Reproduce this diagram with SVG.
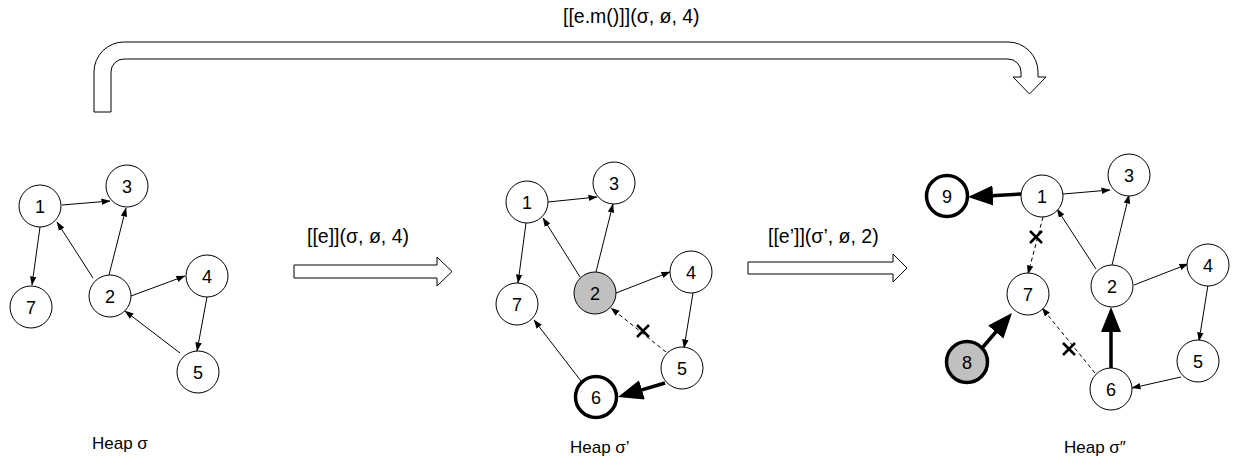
<svg xmlns="http://www.w3.org/2000/svg" width="1234" height="471" viewBox="0 0 1234 471">
<defs>
<style>
text{font-family:"Liberation Sans",Arial,sans-serif;fill:#000}
.n circle{fill:#fff;stroke:#000;stroke-width:1}
.n text{font-size:18px;text-anchor:middle}
.n.bold circle{stroke-width:3.5}
.n.gray circle{fill:#c0c0c0}
.e{stroke:#000;stroke-width:1;fill:none;marker-end:url(#ah)}
.d{stroke-dasharray:4,3}
.t{stroke:#000;stroke-width:3.5;fill:none;marker-end:url(#ahb)}
.x{stroke:#000;stroke-width:2.5}
.lbl{font-size:19.5px}
.heap{font-size:17px}
.blk{fill:#fff;stroke:#000;stroke-width:1}
</style>
<marker id="ah" markerUnits="userSpaceOnUse" markerWidth="10" markerHeight="8" refX="8.5" refY="4" orient="auto"><path d="M0,0.8 L9,4 L0,7.2 Z" fill="#000"/></marker>
<marker id="ahb" markerUnits="userSpaceOnUse" markerWidth="26" markerHeight="22" refX="15" refY="10" orient="auto"><path d="M0,0 L25,10 L0,20 Z" fill="#000"/></marker>
</defs>

<g id="big-arrow">
<path class="blk" d="M94,112 L94,72 A30,30 0 0 1 124,42 L1008,42 A30,30 0 0 1 1038,72 L1038,77 L1046,77 L1029.5,94 L1013,77 L1021,77 L1021,72 A13,13 0 0 0 1008,59 L124,59 A13,13 0 0 0 111,72 L111,112 Z"/>
<text class="lbl" x="563" y="23">[[e.m()]](σ, ø, 4)</text>
</g>
<g id="step1">
<path class="blk" d="M294,265 L437,265 L437,257 L452,271.5 L437,286 L437,278 L294,278 Z"/>
<text class="lbl" x="307" y="243">[[e]](σ, ø, 4)</text>
</g>
<g id="step2">
<path class="blk" d="M748,262 L893,262 L893,254 L907,268 L893,282 L893,274 L748,274 Z"/>
<text class="lbl" x="768" y="243">[[e’]](σ’, ø, 2)</text>
</g>

<g id="connectors">
<line class="e" x1="62" y1="205" x2="110" y2="201"/>
<line class="e" x1="40" y1="227" x2="32" y2="285"/>
<line class="e" x1="93" y1="278" x2="57" y2="222"/>
<line class="e" x1="109" y1="275" x2="126" y2="208"/>
<line class="e" x1="131" y1="296" x2="185" y2="276"/>
<line class="e" x1="207" y1="297" x2="197" y2="351"/>
<line class="e" x1="180" y1="353" x2="125" y2="311"/>
<line class="e" x1="548" y1="202" x2="597" y2="197"/>
<line class="e" x1="526" y1="223" x2="518" y2="283"/>
<line class="e" x1="580" y1="277" x2="543" y2="218"/>
<line class="e" x1="596" y1="272" x2="613" y2="204"/>
<line class="e" x1="616" y1="293" x2="670" y2="272"/>
<line class="e" x1="693" y1="293" x2="684" y2="348"/>
<line class="e d" x1="666" y1="352" x2="611" y2="308"/>
<line class="t" x1="665" y1="383" x2="627.6" y2="394.1"/>
<line class="e" x1="581" y1="381" x2="534" y2="320"/>
<line class="t" x1="1021" y1="194" x2="978" y2="196.4"/>
<line class="e" x1="1063" y1="194" x2="1110" y2="190"/>
<line class="e d" x1="1043" y1="217" x2="1028" y2="274"/>
<line class="e" x1="1096" y1="269" x2="1057" y2="209"/>
<line class="e" x1="1112" y1="265" x2="1129" y2="195"/>
<line class="e" x1="1134" y1="285" x2="1188" y2="264"/>
<line class="e" x1="1208" y1="285" x2="1199" y2="341"/>
<line class="e" x1="1181" y1="377" x2="1132" y2="388"/>
<line class="t" x1="1111" y1="368" x2="1111" y2="317"/>
<line class="e d" x1="1095" y1="373" x2="1042" y2="308"/>
<line class="t" x1="983" y1="347" x2="1005.5" y2="320.6"/>
<path class="x" d="M637,325 L649,337 M649,325 L637,337"/>
<path class="x" d="M1030,231 L1042,243 M1042,231 L1030,243"/>
<path class="x" d="M1063,343 L1075,355 M1075,343 L1063,355"/>
</g>

<g id="heap1">
<g id="h1-n1" class="n"><circle cx="40" cy="206" r="21"/><text x="40" y="212.5">1</text></g>
<g id="h1-n3" class="n"><circle cx="127" cy="186" r="21"/><text x="127" y="192.5">3</text></g>
<g id="h1-n7" class="n"><circle cx="31" cy="307" r="21"/><text x="31" y="313.5">7</text></g>
<g id="h1-n2" class="n"><circle cx="110" cy="296" r="21"/><text x="110" y="302.5">2</text></g>
<g id="h1-n4" class="n"><circle cx="207" cy="276" r="21"/><text x="207" y="282.5">4</text></g>
<g id="h1-n5" class="n"><circle cx="198" cy="372" r="21"/><text x="198" y="378.5">5</text></g>
<text id="h1-label" class="heap" x="92" y="449">Heap σ</text>
</g>

<g id="heap2">
<g id="h2-n1" class="n"><circle cx="527" cy="202" r="21"/><text x="527" y="208.5">1</text></g>
<g id="h2-n3" class="n"><circle cx="614" cy="183" r="21"/><text x="614" y="189.5">3</text></g>
<g id="h2-n7" class="n"><circle cx="517" cy="304" r="21"/><text x="517" y="310.5">7</text></g>
<g id="h2-n2" class="n gray"><circle cx="595" cy="293" r="21"/><text x="595" y="299.5">2</text></g>
<g id="h2-n4" class="n"><circle cx="691" cy="272" r="21"/><text x="691" y="278.5">4</text></g>
<g id="h2-n5" class="n"><circle cx="682" cy="368" r="21"/><text x="682" y="374.5">5</text></g>
<g id="h2-n6" class="n bold"><circle cx="596" cy="397" r="20.5"/><text x="596" y="403.5">6</text></g>
<text id="h2-label" class="heap" x="570" y="453">Heap σ’</text>
</g>

<g id="heap3">
<g id="h3-n9" class="n bold"><circle cx="947" cy="196" r="20.5"/><text x="947" y="202.5">9</text></g>
<g id="h3-n1" class="n"><circle cx="1042" cy="196" r="21"/><text x="1042" y="202.5">1</text></g>
<g id="h3-n3" class="n"><circle cx="1129" cy="175" r="21"/><text x="1129" y="181.5">3</text></g>
<g id="h3-n7" class="n"><circle cx="1028" cy="294" r="21"/><text x="1028" y="300.5">7</text></g>
<g id="h3-n2" class="n"><circle cx="1112" cy="286" r="21"/><text x="1112" y="292.5">2</text></g>
<g id="h3-n4" class="n"><circle cx="1208" cy="265" r="21"/><text x="1208" y="271.5">4</text></g>
<g id="h3-n8" class="n bold gray"><circle cx="967" cy="362" r="20.5"/><text x="967" y="368.5">8</text></g>
<g id="h3-n5" class="n"><circle cx="1198" cy="361" r="21"/><text x="1198" y="367.5">5</text></g>
<g id="h3-n6" class="n"><circle cx="1111" cy="389" r="21"/><text x="1111" y="395.5">6</text></g>
<text id="h3-label" class="heap" x="1064" y="453">Heap σ″</text>
</g>
</svg>
